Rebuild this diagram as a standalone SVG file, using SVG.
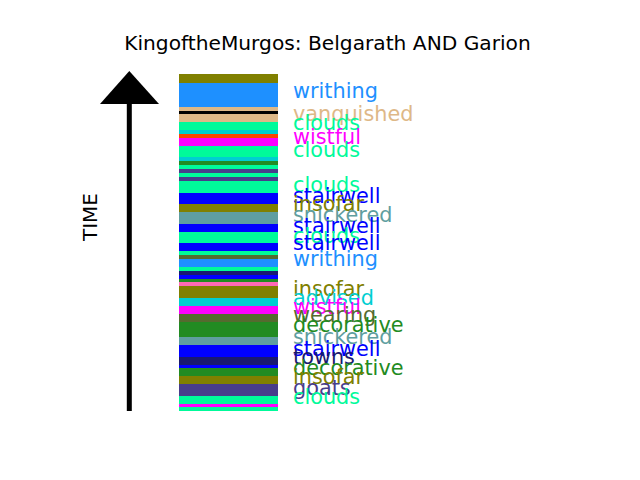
<svg xmlns="http://www.w3.org/2000/svg" width="640" height="480" viewBox="0 0 640 480">
<style>
text{font-family:"DejaVu Sans","Liberation Sans",sans-serif;font-size:20px}
.lb text{font-size:20.8px}
</style>
<rect width="640" height="480" fill="#fff"/>
<text id="title" x="327.5" y="50" text-anchor="middle" fill="#000" style="font-size:20.2px">KingoftheMurgos: Belgarath AND Garion</text>
<g id="axis">
<rect x="126.8" y="100" width="5" height="311" fill="#000"/>
<polygon points="100,104 159,104 129.3,71" fill="#000"/>
<text transform="translate(97,217) rotate(-90)" text-anchor="middle" fill="#000">TIME</text>
</g>
<g id="bar" shape-rendering="crispEdges">
<rect x="179" y="74" width="99" height="9" fill="#808000"/>
<rect x="179" y="83" width="99" height="24" fill="#1E90FF"/>
<rect x="179" y="107" width="99" height="3.7" fill="#DEB887"/>
<rect x="179" y="110.7" width="99" height="3" fill="#000000"/>
<rect x="179" y="113.7" width="99" height="8" fill="#DEB887"/>
<rect x="179" y="121.7" width="99" height="8.3" fill="#00FA9A"/>
<rect x="179" y="130" width="99" height="3.7" fill="#00CED1"/>
<rect x="179" y="133.7" width="99" height="4" fill="#FF4500"/>
<rect x="179" y="137.7" width="99" height="8.3" fill="#FF00FF"/>
<rect x="179" y="146" width="99" height="11.3" fill="#00FA9A"/>
<rect x="179" y="157.3" width="99" height="3.4" fill="#00CED1"/>
<rect x="179" y="160.7" width="99" height="4" fill="#228B22"/>
<rect x="179" y="164.7" width="99" height="4" fill="#00FA9A"/>
<rect x="179" y="168.7" width="99" height="4" fill="#483D8B"/>
<rect x="179" y="172.7" width="99" height="4" fill="#00FA9A"/>
<rect x="179" y="176.7" width="99" height="4" fill="#483D8B"/>
<rect x="179" y="180.7" width="99" height="12" fill="#00FA9A"/>
<rect x="179" y="192.7" width="99" height="11.3" fill="#0000FF"/>
<rect x="179" y="204" width="99" height="8" fill="#808000"/>
<rect x="179" y="212" width="99" height="11.7" fill="#5F9EA0"/>
<rect x="179" y="223.7" width="99" height="8" fill="#0000FF"/>
<rect x="179" y="231.7" width="99" height="11" fill="#00FA9A"/>
<rect x="179" y="242.7" width="99" height="8.3" fill="#0000FF"/>
<rect x="179" y="251" width="99" height="4" fill="#00FA9A"/>
<rect x="179" y="255" width="99" height="4" fill="#556B2F"/>
<rect x="179" y="259" width="99" height="8" fill="#1E90FF"/>
<rect x="179" y="267" width="99" height="4" fill="#00FA9A"/>
<rect x="179" y="271" width="99" height="4" fill="#191970"/>
<rect x="179" y="275" width="99" height="3.5" fill="#0000FF"/>
<rect x="179" y="278.5" width="99" height="3.2" fill="#228B22"/>
<rect x="179" y="281.7" width="99" height="4" fill="#FF69B4"/>
<rect x="179" y="285.7" width="99" height="12" fill="#808000"/>
<rect x="179" y="297.7" width="99" height="8" fill="#00CED1"/>
<rect x="179" y="305.7" width="99" height="8" fill="#FF00FF"/>
<rect x="179" y="313.7" width="99" height="8" fill="#556B2F"/>
<rect x="179" y="321.7" width="99" height="15.3" fill="#228B22"/>
<rect x="179" y="337" width="99" height="8" fill="#5F9EA0"/>
<rect x="179" y="345" width="99" height="12" fill="#0000FF"/>
<rect x="179" y="357" width="99" height="8" fill="#191970"/>
<rect x="179" y="365" width="99" height="2.7" fill="#0000FF"/>
<rect x="179" y="367.7" width="99" height="8.3" fill="#228B22"/>
<rect x="179" y="376" width="99" height="8" fill="#808000"/>
<rect x="179" y="384" width="99" height="12" fill="#483D8B"/>
<rect x="179" y="396" width="99" height="8" fill="#00FA9A"/>
<rect x="179" y="404" width="99" height="2.7" fill="#FF00FF"/>
<rect x="179" y="406.7" width="99" height="4" fill="#00FA9A"/>
</g>
<g id="labels" class="lb">
<text x="293" y="98" fill="#1E90FF">writhing</text>
<text x="293" y="120.5" fill="#DEB887">vanquished</text>
<text x="293" y="129.5" fill="#00FA9A">clouds</text>
<text x="293" y="144" fill="#FF00FF">wistful</text>
<text x="293" y="157" fill="#00FA9A">clouds</text>
<text x="293" y="192" fill="#00FA9A">clouds</text>
<text x="293" y="203" fill="#0000FF">stairwell</text>
<text x="293" y="211" fill="#808000">insofar</text>
<text x="293" y="222" fill="#5F9EA0">snickered</text>
<text x="293" y="233" fill="#0000FF">stairwell</text>
<text x="293" y="243" fill="#00FA9A">clouds</text>
<text x="293" y="250" fill="#0000FF">stairwell</text>
<text x="293" y="265.5" fill="#1E90FF">writhing</text>
<text x="293" y="296" fill="#808000">insofar</text>
<text x="293" y="305" fill="#00CED1">advised</text>
<text x="293" y="313.5" fill="#FF00FF">wistful</text>
<text x="293" y="321.5" fill="#556B2F">wearing</text>
<text x="293" y="331.5" fill="#228B22">decorative</text>
<text x="293" y="343.5" fill="#5F9EA0">snickered</text>
<text x="293" y="356" fill="#0000FF">stairwell</text>
<text x="293" y="363.5" fill="#191970">towns</text>
<text x="293" y="374.5" fill="#228B22">decorative</text>
<text x="293" y="383.5" fill="#808000">insofar</text>
<text x="293" y="394.5" fill="#483D8B">goats</text>
<text x="293" y="403.5" fill="#00FA9A">clouds</text>
</g>
</svg>
